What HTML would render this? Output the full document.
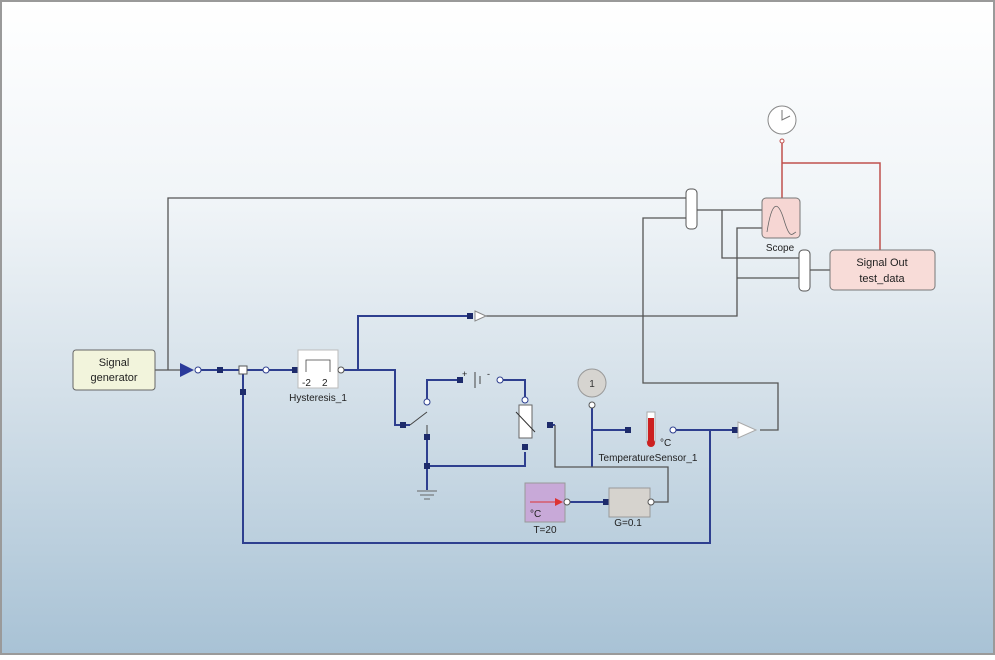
<!DOCTYPE html>
<html><head><style>
html,body{margin:0;padding:0;}
body{width:995px;height:655px;overflow:hidden;font-family:"Liberation Sans",sans-serif;}
</style></head><body>
<svg width="995" height="655" viewBox="0 0 995 655" xmlns="http://www.w3.org/2000/svg" font-family="Liberation Sans, sans-serif">
<defs>
<linearGradient id="bg" x1="0" y1="0" x2="0" y2="1">
<stop offset="0" stop-color="#ffffff"/>
<stop offset="0.3" stop-color="#f1f5f8"/>
<stop offset="0.6" stop-color="#d4e0e9"/>
<stop offset="1" stop-color="#a8c2d5"/>
</linearGradient>
</defs>
<rect x="0" y="0" width="995" height="655" fill="url(#bg)"/>
<rect x="1" y="1" width="993" height="653" fill="none" stroke="#9a9a9a" stroke-width="2"/>

<!-- gray signal lines -->
<g stroke="#555" stroke-width="1.3" fill="none">
<polyline points="168,370 168,198 688,198"/>
<polyline points="760,430 778,430 778,383 643,383 643,218 688,218"/>
<polyline points="697,210 762,210"/>
<polyline points="722,210 722,258 800,258"/>
<polyline points="486,316 737,316 737,228 762,228"/>
<polyline points="737,278 800,278"/>
<polyline points="810,270 830,270"/>
<polyline points="155,370 180,370"/>
</g>
<!-- red clock lines -->
<g stroke="#c0504d" stroke-width="1.5" fill="none">
<polyline points="782,140 782,198"/>
<polyline points="782,163 880,163 880,250"/>
</g>
<!-- blue lines -->
<g stroke="#2e3f8f" stroke-width="2" fill="none">
<polyline points="195,370 298,370"/>
<polyline points="243,370 243,543 710,543 710,430"/>
<polyline points="340,370 358,370 358,316 470,316"/>
<polyline points="340,370 395,370 395,425 410,425"/>
<polyline points="427,402 427,380 460,380"/>
<polyline points="500,380 525,380 525,398"/>
<polyline points="427,440 427,490"/>
<polyline points="427,466 525,466 525,452"/>
<polyline points="550,425 555,425"/>
<polyline points="592,405 592,467"/>
<polyline points="592,430 628,430"/>
<polyline points="673,430 738,430"/>
<polyline points="568,502 608,502"/>
</g>
<g stroke="#555" stroke-width="1.3" fill="none">
<polyline points="555,425 555,467 668,467 668,502 652,502"/>
</g>

<!-- Signal generator -->
<rect x="73" y="350" width="82" height="40" rx="3" fill="#f2f4dc" stroke="#666"/>
<text x="114" y="366" font-size="11" text-anchor="middle" fill="#222">Signal</text>
<text x="114" y="381" font-size="11" text-anchor="middle" fill="#222">generator</text>
<polygon points="180,363 194,370 180,377" fill="#2b3a9a"/>
<circle cx="198" cy="370" r="3" fill="#fff" stroke="#2e3f8f"/>
<rect x="217" y="367" width="6" height="6" fill="#1d2b6b"/>
<rect x="239" y="366" width="8" height="8" fill="#fff" stroke="#555"/>
<rect x="240" y="389" width="6" height="6" fill="#1d2b6b"/>
<circle cx="266" cy="370" r="3" fill="#fff" stroke="#2e3f8f"/>
<rect x="292" y="367" width="6" height="6" fill="#1d2b6b"/>
<!-- hysteresis -->
<rect x="298" y="350" width="40" height="38" fill="#fff" stroke="#bbb"/>
<polyline points="306,372 306,360 330,360 330,372" fill="none" stroke="#444" stroke-width="0.8"/>
<text x="302" y="386" font-size="10" fill="#222">-2</text>
<text x="322" y="386" font-size="10" fill="#222">2</text>
<circle cx="341" cy="370" r="3" fill="#fff" stroke="#555"/>
<text x="318" y="401" font-size="10" text-anchor="middle" fill="#222">Hysteresis_1</text>
<rect x="467" y="313" width="6" height="6" fill="#1d2b6b"/>
<polygon points="475,311 486,316 475,321" fill="#fff" stroke="#888"/>
<!-- switch -->
<rect x="400" y="422" width="6" height="6" fill="#1d2b6b"/>
<line x1="410" y1="425" x2="427" y2="412" stroke="#444"/>
<line x1="427" y1="425" x2="427" y2="440" stroke="#444"/>
<circle cx="427" cy="402" r="3" fill="#fff" stroke="#2e3f8f"/>
<rect x="424" y="434" width="6" height="6" fill="#1d2b6b"/>
<rect x="424" y="463" width="6" height="6" fill="#1d2b6b"/>
<line x1="417" y1="491" x2="437" y2="491" stroke="#666"/>
<line x1="420" y1="495" x2="434" y2="495" stroke="#666"/>
<line x1="424" y1="499" x2="430" y2="499" stroke="#666"/>
<!-- battery -->
<rect x="457" y="377" width="6" height="6" fill="#1d2b6b"/>
<line x1="475" y1="372" x2="475" y2="388" stroke="#444"/>
<line x1="480" y1="376" x2="480" y2="384" stroke="#444"/>
<text x="462" y="377" font-size="9" fill="#222">+</text>
<text x="487" y="377" font-size="9" fill="#222">-</text>
<circle cx="500" cy="380" r="3" fill="#fff" stroke="#2e3f8f"/>
<!-- resistor -->
<circle cx="525" cy="400" r="3" fill="#fff" stroke="#2e3f8f"/>
<rect x="519" y="405" width="13" height="33" fill="#fff" stroke="#666"/>
<line x1="516" y1="412" x2="535" y2="432" stroke="#333"/>
<rect x="522" y="444" width="6" height="6" fill="#1d2b6b"/>
<rect x="547" y="422" width="6" height="6" fill="#1d2b6b"/>
<!-- dial -->
<circle cx="592" cy="383" r="14" fill="#d6d4d0" stroke="#999"/>
<text x="592" y="387" font-size="10" text-anchor="middle" fill="#333">1</text>
<circle cx="592" cy="405" r="3" fill="#fff" stroke="#555"/>
<!-- temp sensor -->
<rect x="625" y="427" width="6" height="6" fill="#1d2b6b"/>
<rect x="647" y="412" width="8" height="30" fill="#fff" stroke="#aaa"/>
<rect x="648" y="418" width="6" height="24" fill="#cc2020"/>
<circle cx="651" cy="443" r="4" fill="#cc2020"/>
<circle cx="673" cy="430" r="3" fill="#fff" stroke="#2e3f8f"/>
<text x="660" y="446" font-size="10" fill="#222">°C</text>
<text x="648" y="461" font-size="10" text-anchor="middle" fill="#222">TemperatureSensor_1</text>
<rect x="732" y="427" width="6" height="6" fill="#1d2b6b"/>
<polygon points="738,422 756,430 738,438" fill="#fff" stroke="#aaa"/>
<!-- T=20 -->
<rect x="525" y="483" width="40" height="39" fill="#c8a9d8" stroke="#999"/>
<line x1="530" y1="502" x2="560" y2="502" stroke="#d33"/>
<polygon points="555,498 563,502 555,506" fill="#d33"/>
<circle cx="567" cy="502" r="3" fill="#fff" stroke="#555"/>
<text x="530" y="517" font-size="10" fill="#222">°C</text>
<text x="545" y="533" font-size="10" text-anchor="middle" fill="#222">T=20</text>
<rect x="603" y="499" width="6" height="6" fill="#1d2b6b"/>
<rect x="609" y="488" width="41" height="29" fill="#d6d3ce" stroke="#999"/>
<circle cx="651" cy="502" r="3" fill="#fff" stroke="#555"/>
<text x="628" y="526" font-size="10" text-anchor="middle" fill="#222">G=0.1</text>
<!-- mux1 -->
<rect x="686" y="189" width="11" height="40" rx="4" fill="#fff" stroke="#555"/>
<!-- scope -->
<rect x="762" y="198" width="38" height="40" rx="4" fill="#f6d6d3" stroke="#777"/>
<path d="M767,232 C772,200 778,200 784,220 S792,234 796,232" fill="none" stroke="#666" stroke-width="0.8"/>
<text x="780" y="251" font-size="10" text-anchor="middle" fill="#222">Scope</text>
<!-- mux2 -->
<rect x="799" y="250" width="11" height="41" rx="4" fill="#fff" stroke="#555"/>
<!-- signal out -->
<rect x="830" y="250" width="105" height="40" rx="4" fill="#f8dcd8" stroke="#777"/>
<text x="882" y="266" font-size="11" text-anchor="middle" fill="#222">Signal Out</text>
<text x="882" y="282" font-size="11" text-anchor="middle" fill="#222">test_data</text>
<!-- clock -->
<circle cx="782" cy="120" r="14" fill="#fff" stroke="#888"/>
<polyline points="782,110 782,120 790,116" fill="none" stroke="#777"/>
<circle cx="782" cy="141" r="2" fill="#fff" stroke="#c0504d"/>
</svg>
</body></html>
